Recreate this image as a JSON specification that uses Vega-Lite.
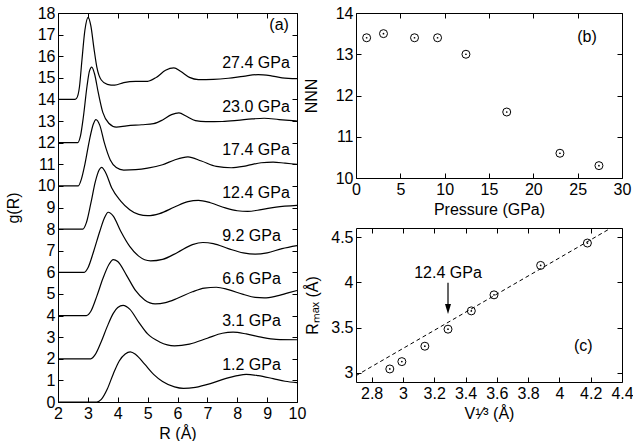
{
  "$schema": "https://vega.github.io/schema/vega-lite/v6.json",
  "padding": {"left": 5, "top": 5, "right": 0, "bottom": 0},
  "background": "white",
  "datasets": {
    "gr": [
      {"P":"27.4","R":2,"g":14},{"P":"27.4","R":2.55,"g":14},{"P":"27.4","R":2.62,"g":14.05},{"P":"27.4","R":2.72,"g":14.6},{"P":"27.4","R":2.8,"g":15.8},{"P":"27.4","R":2.9,"g":17.2},{"P":"27.4","R":3.01,"g":17.8},{"P":"27.4","R":3.1,"g":17.4},{"P":"27.4","R":3.2,"g":16.4},{"P":"27.4","R":3.3,"g":15.5},{"P":"27.4","R":3.45,"g":14.9},{"P":"27.4","R":3.65,"g":14.7},{"P":"27.4","R":3.9,"g":14.66},{"P":"27.4","R":4.2,"g":14.78},{"P":"27.4","R":4.6,"g":14.84},{"P":"27.4","R":5.0,"g":14.84},{"P":"27.4","R":5.3,"g":15.03},{"P":"27.4","R":5.6,"g":15.35},{"P":"27.4","R":5.88,"g":15.46},{"P":"27.4","R":6.1,"g":15.3},{"P":"27.4","R":6.4,"g":15.02},{"P":"27.4","R":6.7,"g":14.92},{"P":"27.4","R":7.2,"g":14.93},{"P":"27.4","R":7.7,"g":14.98},{"P":"27.4","R":8.2,"g":15.07},{"P":"27.4","R":8.7,"g":15.15},{"P":"27.4","R":9.1,"g":15.1},{"P":"27.4","R":9.5,"g":15.0},{"P":"27.4","R":10,"g":14.96},
      {"P":"23.0","R":2,"g":12},{"P":"23.0","R":2.66,"g":12},{"P":"23.0","R":2.75,"g":12.3},{"P":"23.0","R":2.85,"g":13.2},{"P":"23.0","R":2.97,"g":14.6},{"P":"23.0","R":3.05,"g":15.3},{"P":"23.0","R":3.13,"g":15.5},{"P":"23.0","R":3.22,"g":15.2},{"P":"23.0","R":3.35,"g":14.3},{"P":"23.0","R":3.5,"g":13.4},{"P":"23.0","R":3.7,"g":12.9},{"P":"23.0","R":3.95,"g":12.72},{"P":"23.0","R":4.3,"g":12.78},{"P":"23.0","R":4.8,"g":12.83},{"P":"23.0","R":5.2,"g":12.88},{"P":"23.0","R":5.5,"g":13.05},{"P":"23.0","R":5.8,"g":13.3},{"P":"23.0","R":6.05,"g":13.38},{"P":"23.0","R":6.3,"g":13.22},{"P":"23.0","R":6.6,"g":13.02},{"P":"23.0","R":6.95,"g":12.97},{"P":"23.0","R":7.5,"g":12.98},{"P":"23.0","R":8.0,"g":13.03},{"P":"23.0","R":8.5,"g":13.1},{"P":"23.0","R":8.9,"g":13.13},{"P":"23.0","R":9.4,"g":13.07},{"P":"23.0","R":10,"g":13.0},
      {"P":"17.4","R":2,"g":10},{"P":"17.4","R":2.68,"g":10},{"P":"17.4","R":2.78,"g":10.3},{"P":"17.4","R":2.9,"g":11.0},{"P":"17.4","R":3.05,"g":12.1},{"P":"17.4","R":3.18,"g":12.85},{"P":"17.4","R":3.27,"g":13.07},{"P":"17.4","R":3.4,"g":12.8},{"P":"17.4","R":3.55,"g":12.0},{"P":"17.4","R":3.75,"g":11.2},{"P":"17.4","R":3.95,"g":10.85},{"P":"17.4","R":4.2,"g":10.73},{"P":"17.4","R":4.6,"g":10.75},{"P":"17.4","R":5.0,"g":10.82},{"P":"17.4","R":5.5,"g":10.98},{"P":"17.4","R":5.9,"g":11.2},{"P":"17.4","R":6.35,"g":11.34},{"P":"17.4","R":6.8,"g":11.15},{"P":"17.4","R":7.3,"g":10.9},{"P":"17.4","R":7.8,"g":10.84},{"P":"17.4","R":8.3,"g":10.93},{"P":"17.4","R":8.8,"g":11.07},{"P":"17.4","R":9.2,"g":11.1},{"P":"17.4","R":9.6,"g":11.05},{"P":"17.4","R":10,"g":11.0},
      {"P":"12.4","R":2,"g":8},{"P":"12.4","R":2.83,"g":8},{"P":"12.4","R":2.95,"g":8.3},{"P":"12.4","R":3.1,"g":9.2},{"P":"12.4","R":3.25,"g":10.2},{"P":"12.4","R":3.38,"g":10.75},{"P":"12.4","R":3.46,"g":10.86},{"P":"12.4","R":3.6,"g":10.6},{"P":"12.4","R":3.8,"g":9.9},{"P":"12.4","R":4.1,"g":9.3},{"P":"12.4","R":4.4,"g":8.9},{"P":"12.4","R":4.7,"g":8.68},{"P":"12.4","R":5.0,"g":8.62},{"P":"12.4","R":5.4,"g":8.72},{"P":"12.4","R":5.9,"g":9.02},{"P":"12.4","R":6.35,"g":9.27},{"P":"12.4","R":6.7,"g":9.33},{"P":"12.4","R":7.1,"g":9.22},{"P":"12.4","R":7.6,"g":8.98},{"P":"12.4","R":8.0,"g":8.85},{"P":"12.4","R":8.35,"g":8.82},{"P":"12.4","R":8.8,"g":8.9},{"P":"12.4","R":9.3,"g":9.02},{"P":"12.4","R":10,"g":9.1},
      {"P":"9.2","R":2,"g":6},{"P":"9.2","R":2.88,"g":6},{"P":"9.2","R":3.0,"g":6.2},{"P":"9.2","R":3.2,"g":7.0},{"P":"9.2","R":3.4,"g":7.9},{"P":"9.2","R":3.55,"g":8.5},{"P":"9.2","R":3.68,"g":8.78},{"P":"9.2","R":3.85,"g":8.6},{"P":"9.2","R":4.1,"g":7.9},{"P":"9.2","R":4.4,"g":7.2},{"P":"9.2","R":4.7,"g":6.75},{"P":"9.2","R":5.1,"g":6.53},{"P":"9.2","R":5.5,"g":6.6},{"P":"9.2","R":6.0,"g":6.92},{"P":"9.2","R":6.5,"g":7.28},{"P":"9.2","R":6.85,"g":7.38},{"P":"9.2","R":7.2,"g":7.33},{"P":"9.2","R":7.7,"g":7.1},{"P":"9.2","R":8.2,"g":6.9},{"P":"9.2","R":8.6,"g":6.84},{"P":"9.2","R":9.0,"g":6.9},{"P":"9.2","R":9.5,"g":7.1},{"P":"9.2","R":10,"g":7.24},
      {"P":"6.6","R":2,"g":4},{"P":"6.6","R":2.95,"g":4},{"P":"6.6","R":3.1,"g":4.2},{"P":"6.6","R":3.3,"g":4.9},{"P":"6.6","R":3.5,"g":5.7},{"P":"6.6","R":3.7,"g":6.35},{"P":"6.6","R":3.85,"g":6.59},{"P":"6.6","R":4.0,"g":6.5},{"P":"6.6","R":4.3,"g":5.85},{"P":"6.6","R":4.6,"g":5.15},{"P":"6.6","R":4.9,"g":4.72},{"P":"6.6","R":5.25,"g":4.54},{"P":"6.6","R":5.6,"g":4.6},{"P":"6.6","R":6.0,"g":4.8},{"P":"6.6","R":6.5,"g":5.1},{"P":"6.6","R":6.9,"g":5.27},{"P":"6.6","R":7.3,"g":5.31},{"P":"6.6","R":7.7,"g":5.2},{"P":"6.6","R":8.2,"g":4.98},{"P":"6.6","R":8.6,"g":4.84},{"P":"6.6","R":8.9,"g":4.82},{"P":"6.6","R":9.3,"g":4.9},{"P":"6.6","R":9.7,"g":5.05},{"P":"6.6","R":10,"g":5.16},
      {"P":"3.1","R":2,"g":2},{"P":"3.1","R":3.1,"g":2},{"P":"3.1","R":3.25,"g":2.2},{"P":"3.1","R":3.45,"g":2.8},{"P":"3.1","R":3.65,"g":3.5},{"P":"3.1","R":3.85,"g":4.1},{"P":"3.1","R":4.0,"g":4.37},{"P":"3.1","R":4.18,"g":4.47},{"P":"3.1","R":4.4,"g":4.3},{"P":"3.1","R":4.7,"g":3.7},{"P":"3.1","R":5.0,"g":3.15},{"P":"3.1","R":5.4,"g":2.78},{"P":"3.1","R":5.9,"g":2.6},{"P":"3.1","R":6.4,"g":2.68},{"P":"3.1","R":7.0,"g":2.95},{"P":"3.1","R":7.5,"g":3.18},{"P":"3.1","R":7.86,"g":3.23},{"P":"3.1","R":8.3,"g":3.15},{"P":"3.1","R":8.8,"g":3.0},{"P":"3.1","R":9.3,"g":2.9},{"P":"3.1","R":10,"g":2.88},
      {"P":"1.2","R":2,"g":0},{"P":"1.2","R":3.3,"g":0},{"P":"1.2","R":3.45,"g":0.12},{"P":"1.2","R":3.65,"g":0.6},{"P":"1.2","R":3.85,"g":1.3},{"P":"1.2","R":4.05,"g":1.9},{"P":"1.2","R":4.25,"g":2.22},{"P":"1.2","R":4.42,"g":2.32},{"P":"1.2","R":4.6,"g":2.2},{"P":"1.2","R":4.9,"g":1.75},{"P":"1.2","R":5.2,"g":1.28},{"P":"1.2","R":5.5,"g":0.95},{"P":"1.2","R":5.9,"g":0.7},{"P":"1.2","R":6.2,"g":0.63},{"P":"1.2","R":6.6,"g":0.68},{"P":"1.2","R":7.1,"g":0.85},{"P":"1.2","R":7.6,"g":1.08},{"P":"1.2","R":8.0,"g":1.22},{"P":"1.2","R":8.3,"g":1.28},{"P":"1.2","R":8.7,"g":1.22},{"P":"1.2","R":9.2,"g":1.08},{"P":"1.2","R":9.6,"g":0.96},{"P":"1.2","R":10,"g":0.9}
    ],
    "glab": [
      {"t":"27.4 GPa","x":9.76,"y":15.69},{"t":"23.0 GPa","x":9.76,"y":13.66},{"t":"17.4 GPa","x":9.76,"y":11.66},{"t":"12.4 GPa","x":9.76,"y":9.65},
      {"t":"9.2 GPa","x":9.46,"y":7.7},{"t":"6.6 GPa","x":9.46,"y":5.7},{"t":"3.1 GPa","x":9.46,"y":3.73},{"t":"1.2 GPa","x":9.46,"y":1.73},
      {"t":"(a)","x":9.73,"y":17.44}
    ],
    "nnn": [
      {"p":1.2,"n":13.4},{"p":3.1,"n":13.5},{"p":6.6,"n":13.4},{"p":9.2,"n":13.4},{"p":12.4,"n":13.0},{"p":17.0,"n":11.6},{"p":23.0,"n":10.6},{"p":27.4,"n":10.3}
    ],
    "blab": [{"t":"(b)","x":26.05,"y":13.42}],
    "rmax": [
      {"v":2.916,"r":3.044},{"v":2.993,"r":3.125},{"v":3.14,"r":3.295},{"v":3.288,"r":3.483},{"v":3.437,"r":3.685},{"v":3.582,"r":3.862},{"v":3.88,"r":4.187},{"v":4.179,"r":4.434}
    ],
    "fit": [{"v":2.7,"r":2.97},{"v":4.33,"r":4.6}],
    "arrow": [{"v":3.288,"r1":3.995,"r2":3.72,"head":3.707}],
    "clab": [{"t":"12.4 GPa","x":3.288,"y":4.106},{"t":"(c)","x":4.153,"y":3.295}]
  },
  "hconcat": [
    {
      "width": 239,
      "height": 389,
      "layer": [
        {
          "data": {"name": "gr"},
          "mark": {"type": "line", "interpolate": "monotone", "color": "black", "strokeWidth": 1.2},
          "encoding": {
            "x": {"field": "R", "type": "quantitative", "scale": {"domain": [2, 10], "nice": false, "zero": false},
                  "axis": {"orient": "bottom", "values": [2,3,4,5,6,7,8,9,10], "title": "R (Å)", "titlePadding": 4}},
            "y": {"field": "g", "type": "quantitative", "scale": {"domain": [0, 18], "nice": false, "zero": false},
                  "axis": {"orient": "left", "values": [0,1,2,3,4,5,6,7,8,9,10,11,12,13,14,15,16,17,18], "title": "g(R)", "titlePadding": 16}},
            "detail": {"field": "P"}
          }
        },
        {
          "data": {"name": "glab"},
          "mark": {"type": "text", "align": "right", "baseline": "middle", "fontSize": 16, "color": "black"},
          "encoding": {
            "x": {"field": "x", "type": "quantitative", "scale": {"domain": [2, 10], "nice": false, "zero": false},
                  "axis": {"orient": "top", "values": [2,3,4,5,6,7,8,9,10], "labels": false, "title": null}},
            "y": {"field": "y", "type": "quantitative", "scale": {"domain": [0, 18], "nice": false, "zero": false},
                  "axis": {"orient": "right", "values": [0,1,2,3,4,5,6,7,8,9,10,11,12,13,14,15,16,17,18], "labels": false, "title": null}},
            "text": {"field": "t"}
          }
        }
      ],
      "resolve": {"axis": {"x": "independent", "y": "independent"}}
    },
    {
      "vconcat": [
        {
          "width": 266,
          "height": 165,
          "layer": [
            {
              "data": {"name": "nnn"},
              "mark": {"type": "point", "shape": "circle", "filled": false, "size": 64, "stroke": "black", "strokeWidth": 1, "opacity": 1},
              "encoding": {
                "x": {"field": "p", "type": "quantitative", "scale": {"domain": [0, 30], "nice": false, "zero": false},
                      "axis": {"orient": "bottom", "values": [0,5,10,15,20,25,30], "title": "Pressure (GPa)", "titlePadding": 4}},
                "y": {"field": "n", "type": "quantitative", "scale": {"domain": [10, 14], "nice": false, "zero": false},
                      "axis": {"orient": "left", "values": [10,11,12,13,14], "title": "NNN", "titlePadding": 16}}
              }
            },
            {
              "data": {"name": "nnn"},
              "mark": {"type": "point", "shape": "circle", "filled": true, "size": 3, "color": "black", "opacity": 1},
              "encoding": {
                "x": {"field": "p", "type": "quantitative", "scale": {"domain": [0, 30], "nice": false, "zero": false}, "axis": null},
                "y": {"field": "n", "type": "quantitative", "scale": {"domain": [10, 14], "nice": false, "zero": false}, "axis": null}
              }
            },
            {
              "data": {"name": "blab"},
              "mark": {"type": "text", "align": "center", "baseline": "middle", "fontSize": 16, "color": "black"},
              "encoding": {
                "x": {"field": "x", "type": "quantitative", "scale": {"domain": [0, 30], "nice": false, "zero": false},
                      "axis": {"orient": "top", "values": [0,5,10,15,20,25,30], "labels": false, "title": null}},
                "y": {"field": "y", "type": "quantitative", "scale": {"domain": [10, 14], "nice": false, "zero": false},
                      "axis": {"orient": "right", "values": [10,11,12,13,14], "labels": false, "title": null}},
                "text": {"field": "t"}
              }
            }
          ],
          "resolve": {"axis": {"x": "independent", "y": "independent"}}
        },
        {
          "width": 266,
          "height": 154,
          "layer": [
            {
              "data": {"name": "rmax"},
              "mark": {"type": "point", "shape": "circle", "filled": false, "size": 64, "stroke": "black", "strokeWidth": 1, "opacity": 1},
              "encoding": {
                "x": {"field": "v", "type": "quantitative", "scale": {"domain": [2.7, 4.4], "nice": false, "zero": false},
                      "axis": {"orient": "bottom", "values": [2.8,3,3.2,3.4,3.6,3.8,4,4.2,4.4], "format": "~g", "title": "V¹⁄³ (Å)", "titlePadding": 4}},
                "y": {"field": "r", "type": "quantitative", "scale": {"domain": [2.9, 4.6], "nice": false, "zero": false},
                      "axis": {"orient": "left", "values": [3,3.5,4,4.5], "format": "~g", "title": "Rₘₐₓ (Å)", "titlePadding": 10}}
              }
            },
            {
              "data": {"name": "rmax"},
              "mark": {"type": "point", "shape": "circle", "filled": true, "size": 3, "color": "black", "opacity": 1},
              "encoding": {
                "x": {"field": "v", "type": "quantitative", "scale": {"domain": [2.7, 4.4], "nice": false, "zero": false}, "axis": null},
                "y": {"field": "r", "type": "quantitative", "scale": {"domain": [2.9, 4.6], "nice": false, "zero": false}, "axis": null}
              }
            },
            {
              "data": {"name": "fit"},
              "mark": {"type": "line", "color": "black", "strokeWidth": 1, "strokeDash": [4, 3], "clip": true},
              "encoding": {
                "x": {"field": "v", "type": "quantitative", "scale": {"domain": [2.7, 4.4], "nice": false, "zero": false}, "axis": null},
                "y": {"field": "r", "type": "quantitative", "scale": {"domain": [2.9, 4.6], "nice": false, "zero": false}, "axis": null}
              }
            },
            {
              "data": {"name": "arrow"},
              "mark": {"type": "rule", "color": "black", "strokeWidth": 1.2},
              "encoding": {
                "x": {"field": "v", "type": "quantitative", "scale": {"domain": [2.7, 4.4], "nice": false, "zero": false}, "axis": null},
                "y": {"field": "r1", "type": "quantitative", "scale": {"domain": [2.9, 4.6], "nice": false, "zero": false}, "axis": null},
                "y2": {"field": "r2"}
              }
            },
            {
              "data": {"name": "arrow"},
              "mark": {"type": "point", "shape": "M-0.3,-0.5L0.3,-0.5L0,0.5Z", "filled": true, "size": 400, "color": "black", "opacity": 1},
              "encoding": {
                "x": {"field": "v", "type": "quantitative", "scale": {"domain": [2.7, 4.4], "nice": false, "zero": false}, "axis": null},
                "y": {"field": "head", "type": "quantitative", "scale": {"domain": [2.9, 4.6], "nice": false, "zero": false}, "axis": null}
              }
            },
            {
              "data": {"name": "clab"},
              "mark": {"type": "text", "align": "center", "baseline": "middle", "fontSize": 16, "color": "black"},
              "encoding": {
                "x": {"field": "x", "type": "quantitative", "scale": {"domain": [2.7, 4.4], "nice": false, "zero": false},
                      "axis": {"orient": "top", "values": [2.8,3,3.2,3.4,3.6,3.8,4,4.2,4.4], "labels": false, "title": null}},
                "y": {"field": "y", "type": "quantitative", "scale": {"domain": [2.9, 4.6], "nice": false, "zero": false},
                      "axis": {"orient": "right", "values": [3,3.5,4,4.5], "labels": false, "title": null}},
                "text": {"field": "t"}
              }
            }
          ],
          "resolve": {"axis": {"x": "independent", "y": "independent"}}
        }
      ],
      "spacing": 50,
      "bounds": "flush"
    }
  ],
  "spacing": 59,
  "bounds": "flush",
  "config": {
    "font": "Liberation Sans",
    "view": {"stroke": null},
    "axis": {
      "domainColor": "black", "tickColor": "black", "labelColor": "black", "titleColor": "black",
      "labelFontSize": 16, "titleFontSize": 16, "titleFontWeight": "normal",
      "tickSize": -5, "labelFlush": false, "labelOverlap": false, "grid": false,
      "labelPadding": 8, "domainWidth": 1, "tickWidth": 1
    }
  }
}
